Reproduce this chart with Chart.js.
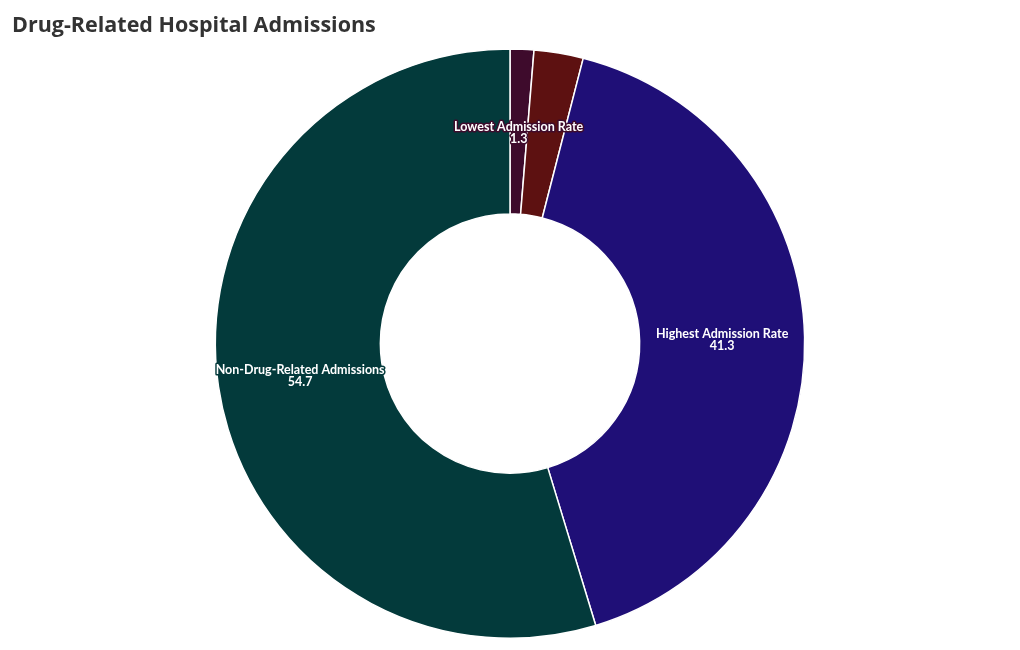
<!DOCTYPE html>
<html>
<head>
<meta charset="utf-8">
<script src="https://cdn.jsdelivr.net/npm/chart.js@4"></script>
<style>
    html, body { margin: 0; padding: 0; background: #ffffff; }
    #wrap { width: 1020px; height: 650px; position: relative; }
</style>
</head>
<body>
<div id="wrap"><canvas id="admissionsChart"></canvas></div>
<script>
const categories = [
    "Lowest Admission Rate",
    "Other Drug-Related Admissions",
    "Highest Admission Rate",
    "Non-Drug-Related Admissions",
];
const admissionValues = [1.3, 2.7, 41.3, 54.7];
const shownLabels = [true, false, true, true];

const SLICE_COLORS = ["#3e0b2c", "#5d1111", "#1f0f77", "#033a3b"];
const FONT = "'Open Sans', Lato, sans-serif";

// draws "name / value" in the middle of each arc, outlined in the slice colour
const sliceLabels = {
    id: "sliceLabels",
    afterDatasetsDraw(chart) {
        const ctx = chart.ctx;
        const meta = chart.getDatasetMeta(0);
        ctx.save();
        ctx.textAlign = "center";
        ctx.textBaseline = "middle";
        ctx.font = "bold 12.5px Lato, sans-serif";
        ctx.lineJoin = "round";
        ctx.lineWidth = 3;
        meta.data.forEach((arc, i) => {
            if (!shownLabels[i]) {
                return;
            }
            const pos = arc.tooltipPosition();
            const lines = [categories[i], String(admissionValues[i])];
            lines.forEach((text, k) => {
                const y = pos.y + (k - 0.5) * 12 + 1;
                ctx.strokeStyle = SLICE_COLORS[i];
                ctx.strokeText(text, pos.x, y);
                ctx.fillStyle = "#ffffff";
                ctx.fillText(text, pos.x, y);
            });
        });
        ctx.restore();
    },
};

new Chart(document.getElementById("admissionsChart"), {
    type: "doughnut",
    data: {
        labels: categories,
        datasets: [{
            data: admissionValues,
            backgroundColor: SLICE_COLORS,
            borderColor: "#ffffff",
            borderWidth: 1.5,
        }],
    },
    options: {
        responsive: true,
        maintainAspectRatio: false,
        animation: false,
        cutout: "44%",
        layout: { padding: { top: 0, bottom: 11, left: 12, right: 12 } },
        plugins: {
            legend: { display: false },
            tooltip: { enabled: false },
            title: {
                display: true,
                text: "Drug-Related Hospital Admissions",
                align: "start",
                color: "#333333",
                font: { family: FONT, size: 21.5, weight: "bold", lineHeight: 1.17 },
                padding: { top: 13, bottom: 10 },
            },
        },
    },
    plugins: [sliceLabels],
});
</script>
</body>
</html>
